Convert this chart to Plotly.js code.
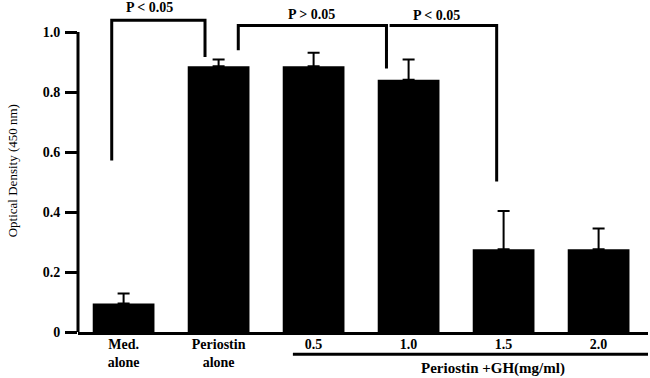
<!DOCTYPE html>
<html>
<head>
<meta charset="utf-8">
<script src="https://cdn.plot.ly/plotly-3.0.1.min.js"></script>
<style>html,body{margin:0;padding:0;background:#fff;}#chart{width:650px;height:378px;}</style>
</head>
<body>
<div id="chart"></div>
<script>
var categories = ["Med. alone", "Periostin alone", "0.5", "1.0", "1.5", "2.0"];
var tickLabels = ["Med.<br>alone", "Periostin<br>alone", "0.5", "1.0", "1.5", "2.0"];
var odValues = [0.095, 0.886, 0.886, 0.841, 0.276, 0.276];
var odErrors = [0.033, 0.022, 0.045, 0.067, 0.127, 0.069];
var yTickVals = [0, 0.2, 0.4, 0.6, 0.8, 1.0];
var yTickText = ["0", "0.2", "0.4", "0.6", "0.8", "1.0"];
var pLabels = ["P < 0.05", "P > 0.05", "P < 0.05"];
var groupLabel = "Periostin +GH(mg/ml)";
var yTitle = "Optical Density (450 nm)";

var serif = "Liberation Serif, Times New Roman, serif";

var trace = {
  type: "bar",
  x: categories,
  y: odValues,
  marker: {color: "#000", line: {width: 0}},
  error_y: {type: "data", array: odErrors, arrayminus: odErrors.map(function(){return 0;}), symmetric: false,
            color: "#000", thickness: 2, width: 6},
  hoverinfo: "none"
};

function bracket(xa, xb, yTop, yA, yB) {
  return {type: "path", xref: "x", yref: "y",
    path: "M " + xa + "," + yA + " L " + xa + "," + yTop + " L " + xb + "," + yTop + " L " + xb + "," + yB,
    line: {color: "#000", width: 3}};
}

var layout = {
  width: 650, height: 378,
  margin: {l: 78, r: 2, t: 2, b: 46},
  paper_bgcolor: "#fff", plot_bgcolor: "#fff",
  showlegend: false,
  bargap: 0.35,
  xaxis: {
    type: "category",
    range: [-0.48, 5.52],
    tickvals: categories, ticktext: tickLabels,
    showline: true, linecolor: "#000", linewidth: 3,
    ticks: "", showgrid: false, zeroline: false,
    tickfont: {family: serif, size: 14, color: "#000", weight: "bold"},
    ticklabelstandoff: -3,
    fixedrange: true
  },
  yaxis: {
    range: [0, 1.1],
    tickvals: yTickVals, ticktext: yTickText,
    showline: false, ticks: "outside", ticklen: 12, tickwidth: 3, tickcolor: "#000",
    showgrid: false, zeroline: false,
    tickfont: {family: serif, size: 14, color: "#000", weight: "bold"},
    ticklabelstandoff: 2,
    fixedrange: true
  },
  shapes: [
    {type: "line", xref: "paper", yref: "y", x0: 0, x1: 0, y0: 0, y1: 1.0, line: {color: "#000", width: 3}},
    bracket(-0.125, 0.857, 1.039, 0.572, 0.917),
    bracket(1.207, 2.767, 1.022, 0.939, 0.878),
    bracket(2.80, 3.927, 1.022, 1.022, 0.502),
    {type: "line", xref: "paper", yref: "paper", x0: 0.377, x1: 1.0, y0: -0.0676, y1: -0.0676, line: {color: "#000", width: 3}}
  ],
  annotations: [
    {text: pLabels[0], xref: "paper", yref: "paper", x: 0.1246, y: 0.983, xanchor: "center", yanchor: "middle", showarrow: false,
     font: {family: serif, size: 14, color: "#000", weight: "bold"}},
    {text: pLabels[1], xref: "paper", yref: "paper", x: 0.4088, y: 0.9627, xanchor: "center", yanchor: "middle", showarrow: false,
     font: {family: serif, size: 14, color: "#000", weight: "bold"}},
    {text: pLabels[2], xref: "paper", yref: "paper", x: 0.6298, y: 0.9597, xanchor: "center", yanchor: "middle", showarrow: false,
     font: {family: serif, size: 14, color: "#000", weight: "bold"}},
    {text: groupLabel, xref: "paper", yref: "paper", x: 0.728, y: -0.11, xanchor: "center", yanchor: "middle", showarrow: false,
     font: {family: serif, size: 15, color: "#000", weight: "bold"}},
    {text: yTitle, xref: "paper", yref: "paper", x: -0.1158, y: 0.49, xanchor: "center", yanchor: "middle", textangle: -90, showarrow: false,
     font: {family: serif, size: 13, color: "#000"}}
  ]
};

Plotly.newPlot("chart", [trace], layout, {displayModeBar: false, staticPlot: true});
</script>
</body>
</html>
